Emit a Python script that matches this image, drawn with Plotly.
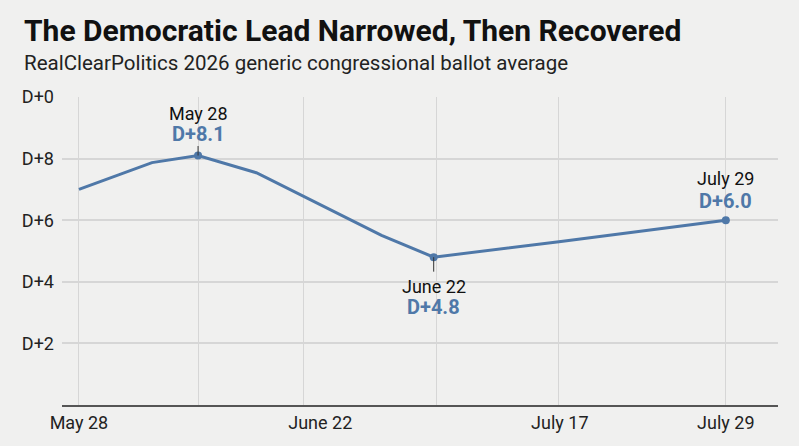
import plotly.graph_objects as go

# RCP generic ballot average
dates = ["2026-05-28", "2026-06-04", "2026-06-08 10:00", "2026-06-14",
         "2026-06-26", "2026-07-01", "2026-07-13", "2026-07-29"]
lead = [7.0, 7.87, 8.1, 7.54, 5.51, 4.8, 5.3, 6.0]

# highlighted points (index into the series) and their labels
marked = [2, 5, 7]
marked_names = ["May 28", "June 22", "July 29"]

y_ticks = [2, 4, 6, 8, 10]
y_labels = ["D+2", "D+4", "D+6", "D+8", "D+0"]

x_ticks = ["2026-05-28", "2026-06-20 03:00", "2026-07-13 02:00", "2026-07-29"]
x_labels = ["May 28", "June 22", "July 17", "July 29"]
x_grid = ["2026-05-28", "2026-06-08 10:00", "2026-06-18 12:00",
          "2026-07-01 06:00", "2026-07-13", "2026-07-29"]

blue = "#4f78a8"
font = "Roboto"

fig = go.Figure()
fig.add_trace(go.Scatter(x=dates, y=lead, mode="lines",
                         line=dict(color=blue, width=3), hoverinfo="skip"))
fig.add_trace(go.Scatter(x=[dates[i] for i in marked], y=[lead[i] for i in marked],
                         mode="markers", marker=dict(color=blue, size=8)))

# callouts: (name shift, value shift, leader length) in px; negative = below
callout = {2: (42, 22, -11), 5: (-29, -50, 16), 7: (42, 19, 0)}
for i, name in zip(marked, marked_names):
    name_shift, val_shift, leader = callout[i]
    fig.add_annotation(x=dates[i], y=lead[i], text=name, showarrow=False,
                       yshift=name_shift, font=dict(family=font, size=18, color="#111"))
    fig.add_annotation(x=dates[i], y=lead[i], text=f"<b>D+{lead[i]:.1f}</b>",
                       showarrow=False, yshift=val_shift,
                       font=dict(family=font, size=20, color=blue))
    if leader:
        fig.add_annotation(x=dates[i], y=lead[i], text="", showarrow=True,
                           arrowhead=0, arrowwidth=1, arrowcolor="#333",
                           ax=0, ay=leader)

# title + subtitle
fig.add_annotation(x=-0.0559, y=1.2175, xref="paper", yref="paper",
                   xanchor="left", yanchor="middle", showarrow=False,
                   text="<b>The Democratic Lead Narrowed, Then Recovered</b>",
                   font=dict(family=font, size=30, color="#111"))
fig.add_annotation(x=-0.0559, y=1.11, xref="paper", yref="paper",
                   xanchor="left", yanchor="middle", showarrow=False,
                   text="RealClearPolitics 2026 generic congressional ballot average",
                   font=dict(family=font, size=20.5, color="#222"))

fig.update_layout(
    width=799, height=446,
    margin=dict(l=62, r=21, t=97, b=41),
    paper_bgcolor="#f0f0ef", plot_bgcolor="#f0f0ef",
    showlegend=False,
    font=dict(family=font, color="#222"),
)
fig.update_xaxes(
    type="date", range=["2026-05-26 09:00", "2026-08-03"],
    tickmode="array", tickvals=x_ticks, ticktext=x_labels,
    showgrid=False, ticks="", showline=True, linecolor="#555", linewidth=2,
    tickfont=dict(family=font, size=18, color="#222"),
    minor=dict(tickmode="array", tickvals=x_grid, showgrid=True,
               gridcolor="#d6d6d6", gridwidth=1, ticks=""),
    zeroline=False, fixedrange=True,
)
fig.update_yaxes(
    range=[0, 10], tickmode="array", tickvals=y_ticks, ticktext=y_labels,
    showgrid=True, gridcolor="#d6d6d6", gridwidth=1.5, zeroline=False,
    ticks="", ticklabelstandoff=7,
    tickfont=dict(family=font, size=18, color="#222"),
    fixedrange=True,
)

fig.write_html("out.html", config={"displayModeBar": False},
               post_script="document.body.style.margin='0';")
